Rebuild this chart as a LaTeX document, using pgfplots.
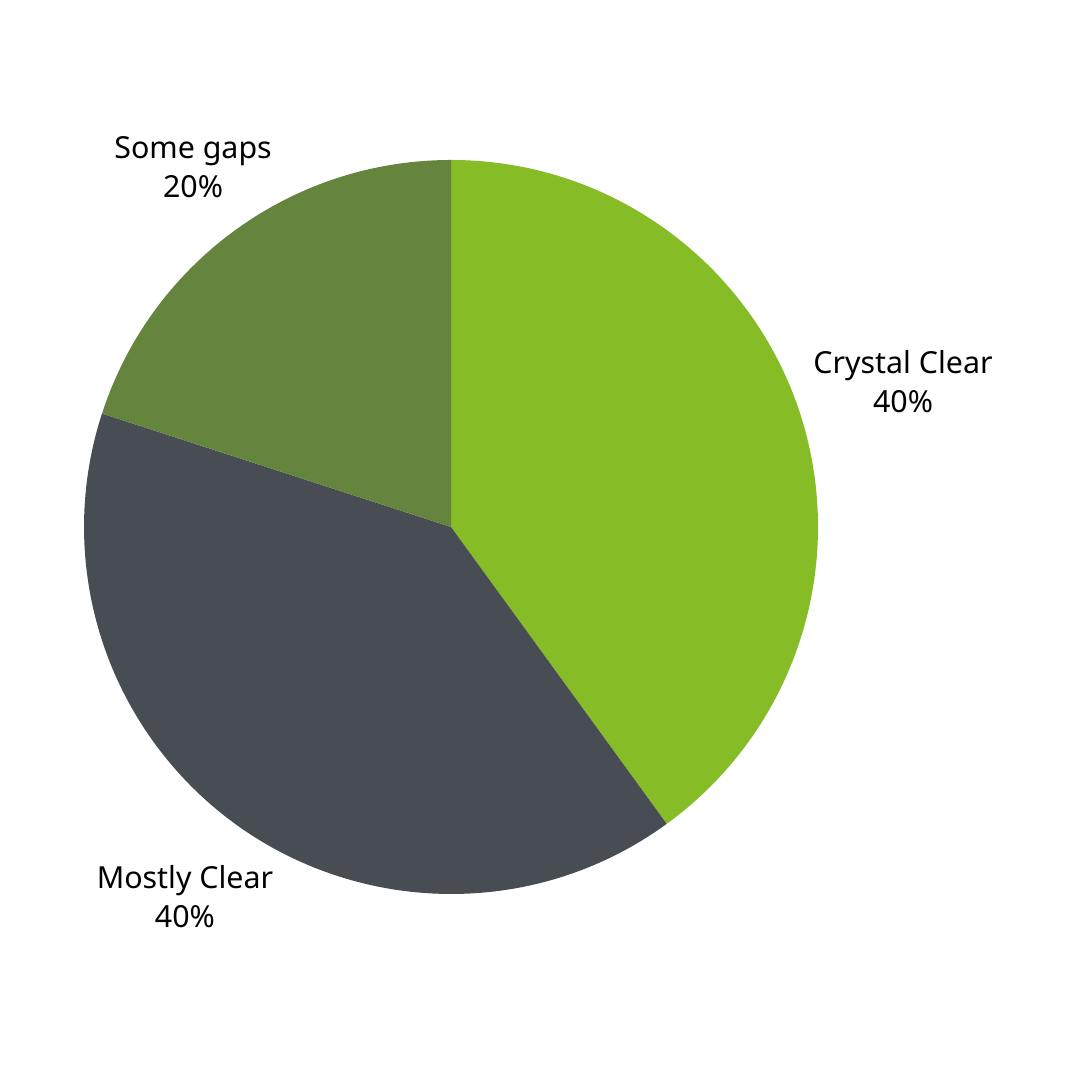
\documentclass[border=0pt]{standalone}
\usepackage{pgfplots}
\pgfplotsset{compat=1.18}
\usepackage{fontspec}
\setmainfont{Noto Sans}
\definecolor{cclear}{HTML}{86BC25}
\definecolor{mclear}{HTML}{484D53}
\definecolor{sgaps}{HTML}{65843E}
% sector: colour, cumulative percent before, percent value
\newcommand{\sector}[3]{%
  \fill[#1] (axis cs:6.264,7.681) -- +({90-3.6*(#2)}:5.097cm)
    arc[start angle={90-3.6*(#2)}, end angle={90-3.6*(#2+#3)}, radius=5.097cm] -- cycle;}
\begin{document}
\begin{tikzpicture}
\begin{axis}[
  x=1cm, y=1cm,
  xmin=0, xmax=15, ymin=0, ymax=15,
  hide axis, clip=false,
  anchor=origin, at={(0,0)},
]
\path (axis cs:0,0) rectangle (axis cs:15,15);
\sector{cclear}{0}{40}
\sector{mclear}{40}{40}
\sector{sgaps}{80}{20}
\node[align=center, font=\fontsize{12}{15.4}\selectfont] at (axis cs:12.542,9.694) {Crystal Clear\\40\%};
\node[align=center, font=\fontsize{12}{15.4}\selectfont] at (axis cs:2.569,2.549) {Mostly Clear\\40\%};
\node[align=center, font=\fontsize{12}{15.4}\selectfont] at (axis cs:2.681,12.674) {Some gaps\\20\%};
\end{axis}
\end{tikzpicture}
\end{document}
